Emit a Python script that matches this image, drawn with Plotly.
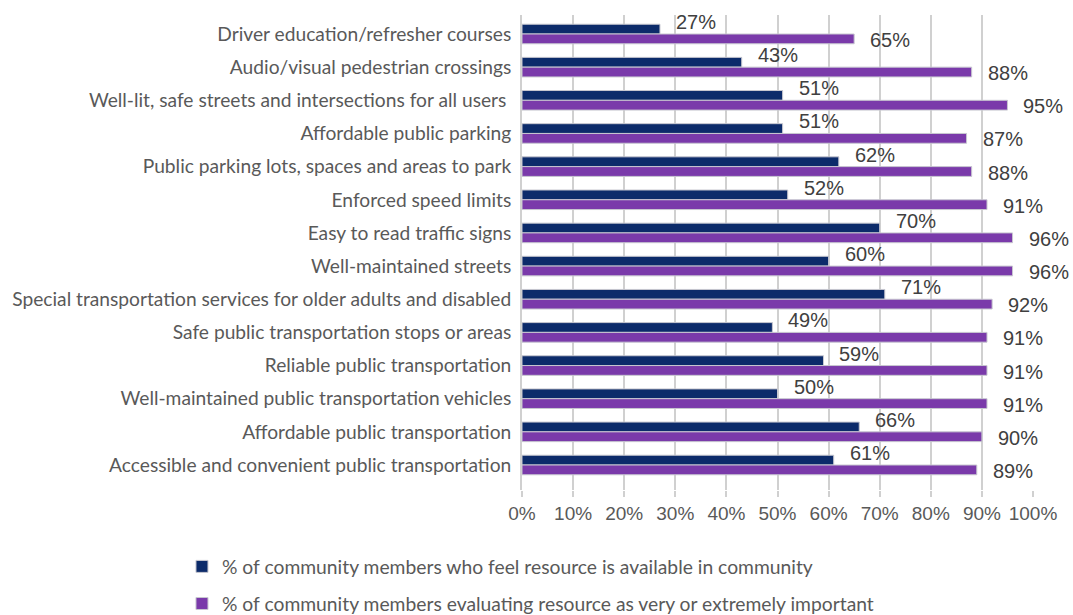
import plotly.graph_objects as go

categories = [
    "Driver education/refresher courses",
    "Audio/visual pedestrian crossings",
    "Well-lit, safe streets and intersections for all users ",
    "Affordable public parking",
    "Public parking lots, spaces and areas to park",
    "Enforced speed limits",
    "Easy to read traffic signs",
    "Well-maintained streets",
    "Special transportation services for older adults and disabled",
    "Safe public transportation stops or areas",
    "Reliable public transportation",
    "Well-maintained public transportation vehicles",
    "Affordable public transportation",
    "Accessible and convenient public transportation",
]
available = [27, 43, 51, 51, 62, 52, 70, 60, 71, 49, 59, 50, 66, 61]
important = [65, 88, 95, 87, 88, 91, 96, 96, 92, 91, 91, 91, 90, 89]
series_names = [
    "% of community members who feel resource is available in community",
    "% of community members evaluating resource as very or extremely important",
]
tick_vals = [0, 10, 20, 30, 40, 50, 60, 70, 80, 90, 100]
tick_text = [f"{v}%" for v in tick_vals]

NAVY = "#0C2B6A"
PURPLE = "#7A3AAA"
cat_font = "Lato, 'Open Sans', sans-serif"
num_font = "'Liberation Sans', Arial, sans-serif"

fig = go.Figure()
fig.add_trace(go.Bar(
    y=categories, x=available, orientation="h", name=series_names[0],
    marker=dict(color=NAVY, line=dict(color="#C8C8D0", width=1)),
    legendgroup="a",
))
fig.add_trace(go.Bar(
    y=categories, x=important, orientation="h", name=series_names[1],
    marker=dict(color=PURPLE, line=dict(color="#C8C8D0", width=1)),
    legendgroup="b",
))

annotations = []
for c, a, b in zip(categories, available, important):
    annotations.append(dict(x=a, y=c, xref="x", yref="y", text=f"{a}%",
                            showarrow=False, xanchor="left", xshift=14, yshift=12,
                            font=dict(family=num_font, size=20, color="#404040")))
    annotations.append(dict(x=b, y=c, xref="x", yref="y", text=f"{b}%",
                            showarrow=False, xanchor="left", xshift=14, yshift=-6,
                            font=dict(family=num_font, size=20, color="#404040")))

fig.update_layout(
    width=1073, height=615,
    margin=dict(l=522, r=40, t=15, b=125, autoexpand=False),
    paper_bgcolor="white", plot_bgcolor="white",
    barmode="group", bargap=0.41, bargroupgap=0,
    annotations=annotations,
    showlegend=True,
    legend=dict(
        orientation="v", xref="container", yref="container",
        x=0.1696, y=0.11, xanchor="left", yanchor="top",
        font=dict(family=cat_font, size=19.3, color="#595959"),
        tracegroupgap=9, traceorder="grouped",
    ),
    xaxis=dict(
        range=[0, 100], tickvals=tick_vals, ticktext=tick_text,
        showgrid=True, gridcolor="#D0D0D0", gridwidth=2,
        ticks="outside", ticklen=6, tickcolor="#D0D0D0", tickwidth=2,
        tickfont=dict(family=num_font, size=19, color="#595959"),
        tickangle=0, automargin=False,
        zeroline=False, showline=False,
    ),
    yaxis=dict(
        autorange="reversed", showline=True, linecolor="#D0D0D0", linewidth=2,
        ticks="", tickfont=dict(family=cat_font, size=19.2, color="#595959"),
        ticksuffix=" ", automargin=False,
    ),
)

fig.write_html("out.html")
